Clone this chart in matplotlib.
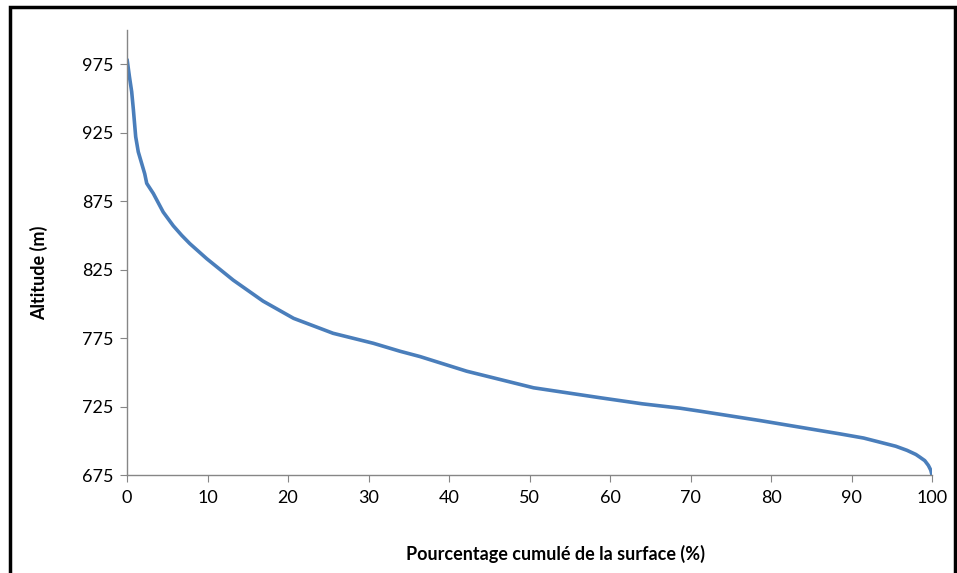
import matplotlib
matplotlib.use("Agg")
import matplotlib.pyplot as plt
from matplotlib.patches import Rectangle

# hypsometric curve
pct = [0, 0.3, 0.58, 0.79, 1.08, 1.4, 1.8, 2.2, 2.45, 3.27, 4.5, 5.75, 6.8, 7.8, 9.9, 13.2, 16.9,
       20.7, 25.6, 30.6, 33.9, 36.4, 42.2, 50.5, 58.8, 64, 68.7, 71.2, 78.6, 83.5, 88.6,
       91.5, 93.5, 95.5, 96.9, 98.0, 98.5, 99.1, 99.55, 99.85, 100]
alt = [979, 966, 955, 942, 922, 911, 903, 895, 888, 880.6, 867, 857, 850, 844, 833, 817.3, 802,
       789.4, 778.5, 771.2, 765.4, 761.5, 750.8, 738.7, 731.4, 727, 723.8, 721.6, 714.8, 710, 705,
       702, 699, 696, 693, 690, 688, 685.5, 682, 678.5, 675]
yticks = [675, 725, 775, 825, 875, 925, 975]
xticks = list(range(0, 101, 10))

plt.rcParams['font.family'] = ['Lato', 'DejaVu Sans']
fig = plt.figure(figsize=(9.57, 5.73), dpi=100)
ax = fig.add_axes([127/957, 1-475/573, (932-127)/957, (475-30)/573])

ax.plot(pct, alt, color='#4A7EBB', lw=2.6, solid_capstyle='butt', solid_joinstyle='round')
ax.set_xlim(0, 100)
ax.set_ylim(675, 1000)
ax.set_xticks(xticks)
ax.set_yticks(yticks)
ax.tick_params(colors='#868686', labelcolor='black', labelsize=13, length=5, direction='out')
ax.tick_params(axis='x', pad=6)
ax.tick_params(axis='y', pad=5)
for s in ['top', 'right']:
    ax.spines[s].set_visible(False)
for s in ['left', 'bottom']:
    ax.spines[s].set_color('#868686')
    ax.spines[s].set_linewidth(1.0)

fig.text(39/957, 1-273/573, 'Altitude (m)', rotation=90, ha='center', va='center',
         fontsize=13, fontweight='bold')
fig.text(555/957, 1-554/573, 'Pourcentage cumulé de la surface (%)', ha='center', va='center',
         fontsize=13, fontweight='bold')

# outer frame
fig.patches.append(Rectangle((10/957, -0.02), 945/957, 1.02-7/573, transform=fig.transFigure,
                             fill=False, edgecolor='black', lw=2.5))

fig.savefig('out.png', dpi=100)
